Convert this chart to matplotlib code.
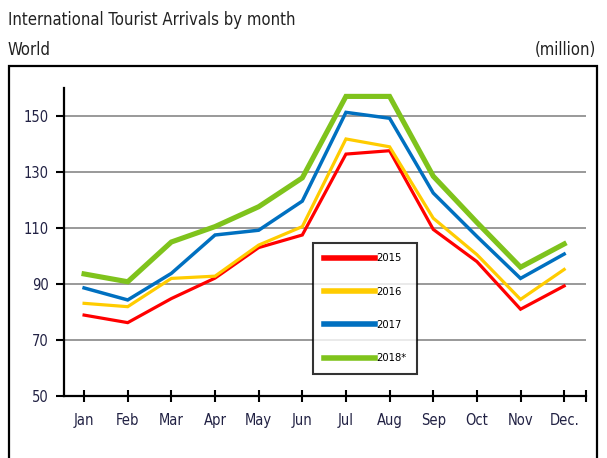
import matplotlib
matplotlib.use("Agg")
import matplotlib.pyplot as plt
from matplotlib.patches import Rectangle

plt.rcParams['font.family'] = ['DejaVu Sans']
plt.rcParams['font.stretch'] = 'condensed'

months = ['Jan', 'Feb', 'Mar', 'Apr', 'May', 'Jun', 'Jul', 'Aug', 'Sep', 'Oct', 'Nov', 'Dec.']
y2015 = [78.9, 76.2, 84.8, 92.1, 103.0, 107.5, 136.4, 137.6, 109.5, 98.0, 81.0, 89.3]
y2016 = [83.1, 81.9, 92.0, 92.8, 103.9, 110.5, 141.8, 139.0, 113.5, 100.5, 84.5, 95.2]
y2017 = [88.6, 84.3, 93.8, 107.5, 109.2, 119.6, 151.3, 149.2, 122.5, 107.0, 92.0, 100.7]
y2018 = [93.6, 90.8, 105.0, 110.5, 117.6, 127.9, 157.0, 157.0, 128.5, 112.0, 96.0, 104.3]
series = ['2015', '2016', '2017', '2018*']
colors = ['#ff0000', '#ffcc00', '#0070c0', '#7fc31c']
widths = [2.3, 2.3, 2.5, 3.7]
yticks = [50, 70, 90, 110, 130, 150]

fig = plt.figure(figsize=(6.07, 4.58), dpi=100)
ax = fig.add_axes([64/607, 1-396/458, 522/607, 308/458])

x = list(range(len(months)))
for vals, lab, c, lw in zip([y2015, y2016, y2017, y2018], series, colors, widths):
    ax.plot(x, vals, color=c, lw=lw, label=lab, solid_joinstyle='miter')

ax.set_xlim(-0.46, 11.5)
ax.set_ylim(50, 160)
ax.set_yticks(yticks)
ax.set_xticks(x)
ax.set_xticklabels(months)
ax.set_xticks([11.5], minor=True)
ax.yaxis.grid(True, color='#888888', lw=1.2)
ax.set_axisbelow(True)

for s in ['top', 'right']:
    ax.spines[s].set_visible(False)
for s in ['left', 'bottom']:
    ax.spines[s].set_linewidth(1.6)
ax.tick_params(axis='y', length=6, width=1.5, labelsize=10.5, colors='black', labelcolor='#222244', pad=5)
ax.tick_params(axis='x', which='both', direction='inout', length=9, width=1.5, labelsize=10.5,
               labelcolor='#222244', pad=8)

leg = ax.legend(loc='upper left', bbox_to_anchor=(0.477, 0.497), fontsize=8, frameon=True,
                fancybox=False, edgecolor='black', handlelength=4.6, handletextpad=0.1,
                labelspacing=2.1, borderpad=0.95, borderaxespad=0)
leg.get_frame().set_linewidth(1.5)
for h in leg.get_lines():
    h.set_linewidth(4)

fig.text(8/607, 1-20/458, 'International Tourist Arrivals by month', fontsize=12, va='center', color='#222222')
fig.text(8/607, 1-50/458, 'World', fontsize=12, va='center', color='#222222')
fig.text(596/607, 1-50/458, '(million)', fontsize=12, va='center', ha='right', color='#222222')

fig.add_artist(Rectangle((9/607, -0.05), 588/607, 0.05 + 1-66/458, transform=fig.transFigure,
                         fill=False, ec='black', lw=1.6))

fig.savefig('out.png', dpi=100)
